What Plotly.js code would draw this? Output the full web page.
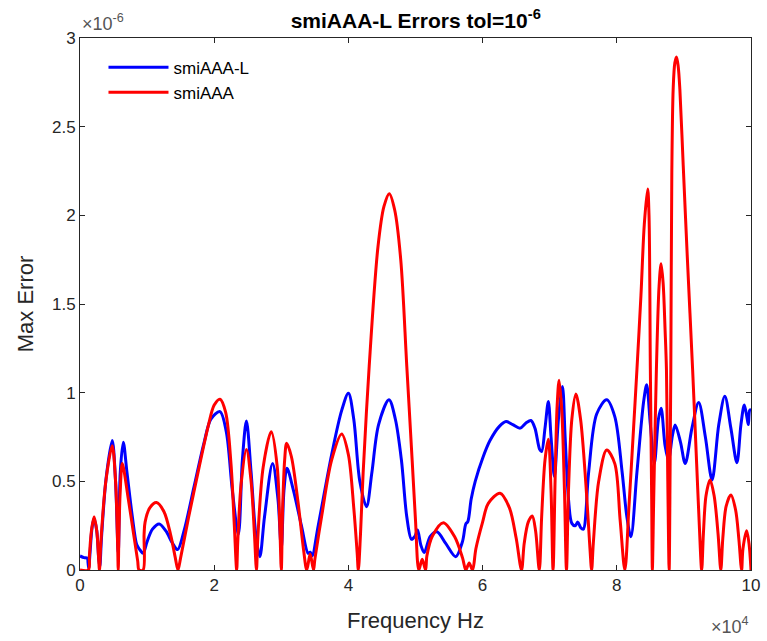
<!DOCTYPE html>
<html>
<head>
<meta charset="utf-8">
<script src="https://cdn.plot.ly/plotly-3.0.1.min.js"></script>
<style>html,body{margin:0;padding:0;background:#fff;}#chart{width:767px;height:641px;}</style>
</head>
<body>
<div id="chart"></div>
<script>
// Frequency in units of 1e4 Hz, errors in units of 1e-6 (as the axes show)
const seriesNames = ["smiAAA-L", "smiAAA"];

const freqBlue = [0,0.06,0.11,0.12,0.13,0.15,0.18,0.21,0.25,0.28,0.295,0.32,0.39,0.48,0.53,0.57,0.60,0.645,0.70,0.78,0.84,0.864,0.90,0.94,1.0,1.08,1.18,1.28,1.38,1.455,1.55,1.70,1.85,1.95,2.086,2.18,2.27,2.36,2.42,2.48,2.55,2.62,2.68,2.75,2.87,2.95,3.0,3.04,3.085,3.18,3.30,3.40,3.43,3.46,3.55,3.75,3.90,4.0,4.08,4.17,4.27,4.35,4.45,4.605,4.70,4.79,4.87,4.94,4.99,5.03,5.08,5.13,5.22,5.32,5.45,5.60,5.70,5.75,5.78,5.83,5.89,6.01,6.11,6.25,6.35,6.45,6.56,6.65,6.72,6.78,6.85,6.88,6.93,6.98,7.02,7.07,7.13,7.19,7.23,7.28,7.33,7.38,7.42,7.46,7.50,7.58,7.70,7.85,7.97,8.08,8.15,8.21,8.30,8.40,8.445,8.50,8.56,8.62,8.66,8.72,8.77,8.83,8.87,8.95,9.02,9.12,9.22,9.32,9.42,9.52,9.61,9.70,9.79,9.85,9.90,9.94,9.96,9.98,10.0];
const errBlue = [0.079,0.07,0.066,0.04,0.01,0.10,0.24,0.29,0.22,0.06,0.02,0.18,0.52,0.73,0.50,0.10,0.55,0.72,0.55,0.30,0.15,0.13,0.11,0.094,0.16,0.23,0.26,0.22,0.15,0.115,0.22,0.47,0.72,0.85,0.893,0.78,0.45,0.20,0.62,0.84,0.55,0.20,0.075,0.30,0.60,0.40,0.12,0.45,0.574,0.45,0.25,0.094,0.10,0.08,0.25,0.65,0.90,0.997,0.85,0.50,0.357,0.55,0.82,0.96,0.85,0.62,0.30,0.173,0.19,0.226,0.14,0.098,0.19,0.216,0.15,0.075,0.16,0.26,0.273,0.40,0.50,0.64,0.73,0.81,0.837,0.82,0.80,0.83,0.843,0.80,0.68,0.668,0.80,0.95,0.75,0.527,0.85,1.035,0.75,0.40,0.263,0.25,0.27,0.24,0.23,0.55,0.88,0.96,0.865,0.55,0.30,0.188,0.55,0.95,1.044,0.82,0.60,0.85,0.912,0.70,0.62,0.76,0.818,0.72,0.60,0.80,0.944,0.75,0.508,0.82,0.98,0.80,0.605,0.82,0.93,0.86,0.82,0.90,0.906];

const freqRed = [0,0.125,0.14,0.17,0.21,0.25,0.275,0.29,0.31,0.385,0.48,0.53,0.56,0.57,0.58,0.60,0.63,0.72,0.80,0.86,0.88,0.94,0.955,0.97,1.04,1.14,1.25,1.35,1.42,1.46,1.50,1.62,1.77,1.91,2.0,2.086,2.17,2.25,2.30,2.335,2.35,2.40,2.48,2.55,2.60,2.63,2.65,2.73,2.85,2.94,2.98,3.0,3.02,3.05,3.08,3.15,3.25,3.33,3.38,3.43,3.48,3.50,3.60,3.75,3.90,4.0,4.08,4.13,4.148,4.18,4.22,4.31,4.44,4.53,4.61,4.69,4.78,4.87,4.95,5.0,5.05,5.10,5.15,5.17,5.25,5.415,5.58,5.70,5.75,5.80,5.85,5.90,6.0,6.085,6.26,6.40,6.50,6.58,6.62,6.68,6.74,6.79,6.845,6.88,6.93,6.98,7.02,7.05,7.08,7.11,7.14,7.18,7.22,7.25,7.28,7.33,7.39,7.46,7.54,7.60,7.625,7.65,7.73,7.85,7.97,8.05,8.12,8.18,8.25,8.30,8.36,8.41,8.46,8.48,8.50,8.52,8.53,8.55,8.59,8.63,8.66,8.69,8.72,8.74,8.76,8.78,8.795,8.805,8.82,8.84,8.865,8.89,8.915,8.94,8.99,9.05,9.13,9.19,9.23,9.265,9.29,9.33,9.39,9.45,9.51,9.55,9.58,9.63,9.70,9.77,9.82,9.86,9.88,9.935,9.97,10.0];
const errRed = [0,0,0.08,0.22,0.30,0.22,0.08,0,0.15,0.50,0.70,0.50,0.15,0,0.20,0.45,0.60,0.40,0.20,0.05,0,0,0.20,0.27,0.35,0.38,0.33,0.20,0.07,0,0.07,0.30,0.57,0.81,0.93,0.963,0.89,0.60,0.25,0,0.15,0.48,0.68,0.50,0.20,0,0.18,0.58,0.78,0.58,0.22,0,0.35,0.62,0.715,0.64,0.38,0.12,0,0.09,0,0.06,0.30,0.62,0.767,0.65,0.35,0.10,0,0.20,0.55,1.15,1.82,2.05,2.122,2.03,1.75,1.15,0.62,0.28,0,0.06,0,0.08,0.19,0.267,0.19,0.07,0,0.04,0,0.12,0.27,0.376,0.433,0.35,0.18,0,0.15,0.27,0.305,0.22,0,0.30,0.62,0.737,0.45,0,0.50,0.92,1.07,0.90,0.45,0,0.45,0.85,0.993,0.85,0.48,0.12,0,0.15,0.50,0.677,0.60,0.28,0,0.35,0.80,1.13,1.55,1.95,2.148,2.0,1.13,0.40,0,0.40,1.13,1.60,1.727,1.62,1.35,1.13,0.50,0,0.60,1.13,2.24,2.71,2.86,2.893,2.84,2.71,2.28,1.77,1.13,0.60,0.25,0,0.20,0.42,0.508,0.42,0.20,0,0.18,0.36,0.423,0.34,0.17,0,0.12,0.222,0.15,0];

const xTicks = [0,2,4,6,8,10];
const yTicks = [0,0.5,1,1.5,2,2.5,3];

const FONT = '"Liberation Sans", Arial, Helvetica, sans-serif';
const AX = '#262626';

const traces = [
  {x: freqBlue, y: errBlue, name: seriesNames[0], type: 'scatter', mode: 'lines',
   line: {color: '#0000ff', width: 3, shape: 'spline', smoothing: 0.9}},
  {x: freqRed, y: errRed, name: seriesNames[1], type: 'scatter', mode: 'lines',
   line: {color: '#ff0000', width: 3, shape: 'spline', smoothing: 0.9}}
];

const axisCommon = {
  showline: true, mirror: 'ticks', linecolor: AX, linewidth: 1,
  ticks: 'inside', ticklen: 5, tickcolor: AX, tickwidth: 1,
  showgrid: false, zeroline: false,
  tickfont: {family: FONT, size: 17, color: AX}
};

const layout = {
  width: 767, height: 641,
  margin: {l: 80, r: 16, t: 38, b: 71},
  paper_bgcolor: '#fff', plot_bgcolor: '#fff',
  font: {family: FONT, color: AX},
  title: {text: '<b>smiAAA-L Errors tol=10<sup>-6</sup></b>', x: 0.542, xanchor: 'center', y: 0.968, yanchor: 'middle',
          font: {family: FONT, size: 21, color: '#000'}},
  xaxis: Object.assign({}, axisCommon, {range: [0, 10], tickvals: xTicks,
          title: {text: 'Frequency Hz', font: {family: FONT, size: 22, color: AX}, standoff: 18}}),
  yaxis: Object.assign({}, axisCommon, {range: [0, 3], tickvals: yTicks,
          title: {text: 'Max Error', font: {family: FONT, size: 22, color: AX}, standoff: 12}}),
  showlegend: true,
  legend: {x: 0.035, y: 0.978, xanchor: 'left', yanchor: 'top', bgcolor: 'rgba(255,255,255,0)',
           borderwidth: 0, font: {family: FONT, size: 17, color: '#000'}, itemwidth: 60, tracegroupgap: 2},
  annotations: [
    {xref: 'paper', yref: 'paper', x: 0, y: 1.003, xanchor: 'left', yanchor: 'bottom', showarrow: false,
     text: '×10<sup>-6</sup>', font: {family: FONT, size: 18, color: '#555'}},
    {xref: 'paper', yref: 'paper', x: 1.0, y: -0.105, xanchor: 'right', yanchor: 'middle', showarrow: false,
     text: '×10<sup>4</sup>', font: {family: FONT, size: 18, color: '#555'}}
  ]
};

Plotly.newPlot('chart', traces, layout, {displayModeBar: false, staticPlot: true});
</script>
</body>
</html>
